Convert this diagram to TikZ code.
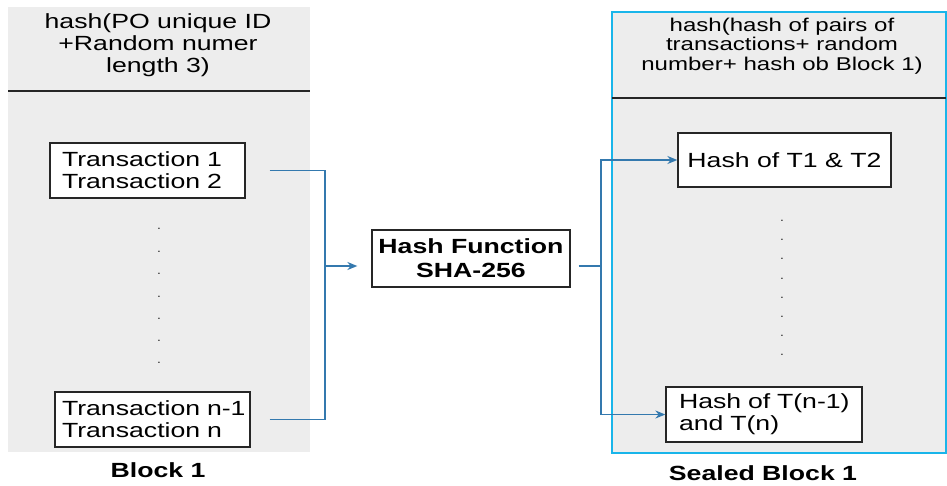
\documentclass[tikz,border=0pt]{standalone}
\usepackage{fontspec}
\setmainfont{Liberation Sans}[FakeStretch=1.3]
\usetikzlibrary{arrows.meta}
\definecolor{panelgray}{HTML}{EDEDED}
\definecolor{linkblue}{HTML}{3479AE}
\definecolor{cyanb}{HTML}{19B5EA}
\begin{document}
\begin{tikzpicture}[x=1pt,y=-1pt,
  font=\fontsize{20.5}{22}\selectfont,
  panel/.style={fill=panelgray, inner sep=0pt},
  tbox/.style={draw=black!85, line width=1.3pt, fill=white, inner sep=0pt},
  link/.style={draw=linkblue, line width=1.4pt},
  arr/.style={link, -{Stealth[length=10pt,width=8pt]}},
  dotm/.style={inner sep=0pt, text=black!75, font=\fontsize{12}{12}\selectfont},
  lbl/.style={inner sep=0pt, font=\fontsize{20.5}{22}\selectfont\bfseries},
  sep/.style={draw=black!85, line width=1.2pt}]
\useasboundingbox (0,0) rectangle (947,485);

% left block
\node[panel, minimum width=302pt, minimum height=445pt] (blk1) at (159,229.5) {};
\draw[sep] (8,91) -- (310,91);
\node[align=center, inner sep=0pt] (h1) at (158,45) {hash(PO unique ID\\+Random numer\\length 3)};
\node[tbox, minimum height=55pt, text width=171pt, inner xsep=12pt, align=left] (t1) at (147.5,170.5) {\mbox{Transaction 1}\\\mbox{Transaction 2}};
\node[tbox, minimum height=55pt, text width=181pt, inner xsep=7pt, align=left] (tn) at (152.5,419.5) {\mbox{Transaction n-1}\\\mbox{Transaction n}};
\foreach \yy [count=\i] in {229,252,274,297,319,341,363}
  \node[dotm] (ld\i) at (159,\yy) {.};
\node[lbl] (b1) at (158,470) {Block 1};

% hash function
\node[tbox, minimum width=198pt, minimum height=57pt, align=center, font=\fontsize{20.5}{24}\selectfont\bfseries] (hf) at (471,258.5) {Hash Function\\SHA-256};

% right block
\node[panel, draw=cyanb, line width=1.2pt, minimum width=334pt, minimum height=441pt] (sb) at (779,232.5) {};
\draw[sep] (612,98) -- (946,98);
\node[align=center, inner sep=0pt, font=\fontsize{18.5}{19.5}\selectfont] (h2) at (782,46) {hash(hash of pairs of\\transactions+ random\\number+ hash ob Block 1)};
\node[tbox, minimum width=213pt, minimum height=54pt] (t12) at (784.5,160) {Hash of T1 \& T2};
\node[tbox, minimum height=55pt, text width=170pt, inner xsep=13pt, align=left] (tnh) at (764,414.5) {\mbox{Hash of T(n-1)}\\\mbox{and T(n)}};
\foreach \yy [count=\i] in {221,240,259,279,298,317,336,355}
  \node[dotm] (rd\i) at (782,\yy) {.};
\node[lbl] (b2) at (763,473) {Sealed Block 1};

% connectors
\coordinate (j1) at (325,266);
\coordinate (j2) at (601,266);
\draw[link] ([xshift=24pt]t1.east) -| (j1);
\draw[link] ([xshift=19pt]tn.east) -| (j1);
\draw[arr, shorten >=14pt] (j1) -- (j1 -| hf.west);
\draw[link] ([xshift=8pt]hf.east |- j2) -- (j2);
\draw[arr] (j2) |- (t12.west);
\draw[arr] (j2) |- (tnh.west);
\end{tikzpicture}
\end{document}
